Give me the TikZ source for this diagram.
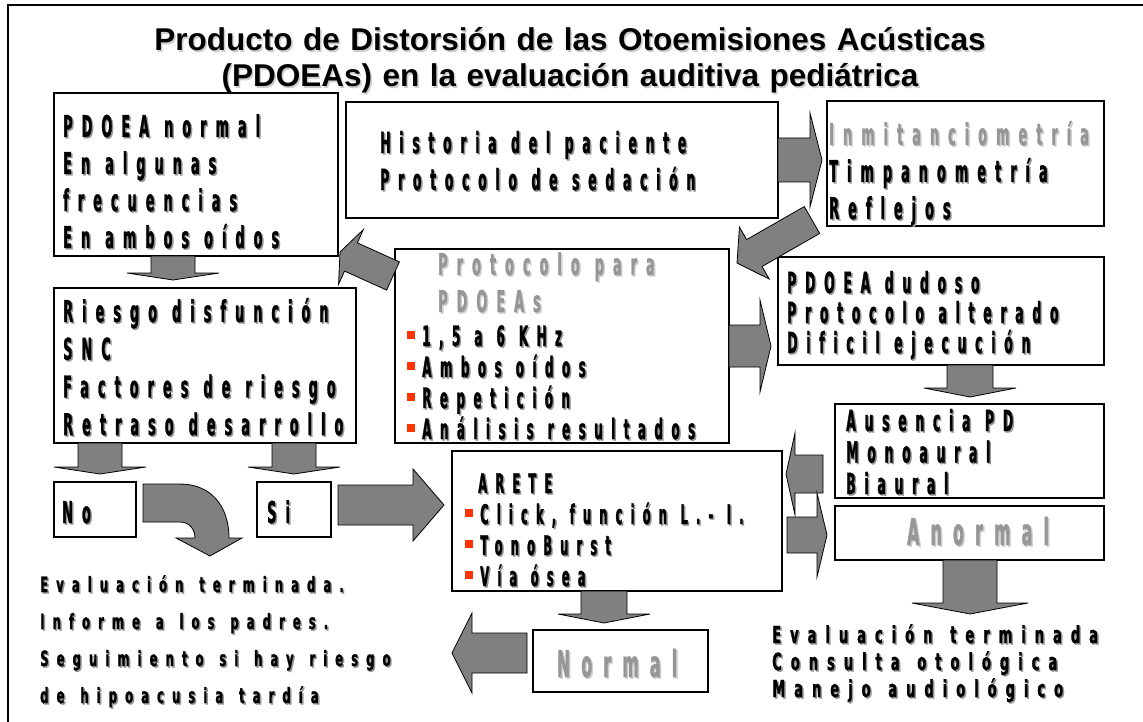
\documentclass[tikz,border=0pt]{standalone}
\usepackage{fontspec}
\setmainfont{Liberation Sans}
\newfontfamily\boxfont[FakeStretch=0.43,FakeBold=1,LetterSpace=30,Ligatures=NoCommon]{DejaVu Sans Bold}
\newfontfamily\evalfont[FakeStretch=0.56,FakeBold=1,LetterSpace=38,Ligatures=NoCommon]{DejaVu Sans Bold}

\definecolor{arrowgray}{RGB}{128,128,128}
\definecolor{softgray}{RGB}{150,150,150}
\definecolor{shadowgray}{RGB}{150,150,150}
\definecolor{lightshadow}{RGB}{205,205,205}
\definecolor{bulletred}{RGB}{255,51,0}

% word gap for the spaced fonts
\newlength\wgap
\newcommand\w{\hspace{\wgap}}
% fonts with size and line skip
\newcommand\bfs[2]{\boxfont\fontsize{#1}{#2}\selectfont\setlength\wgap{0.5em}}
\newcommand\efs[2]{\evalfont\fontsize{#1}{#2}\selectfont\setlength\wgap{0.75em}}
% text with a small grey drop shadow
\newcommand\shd[2][shadowgray]{\leavevmode\rlap{\kern1.5pt\raisebox{-1.5pt}{\textcolor{#1}{#2}}}#2}
\newcommand\bul{\textcolor{bulletred}{\rule[7pt]{8pt}{8pt}}\hspace{7pt}}

% block arrow: tail, tip, shaft half width, head half width, head length
\newcommand\blockarrow[5]{%
  \path (#1); \pgfgetlastxy{\bax}{\bay}
  \path (#2); \pgfgetlastxy{\bbx}{\bby}
  \pgfmathsetmacro\baang{atan2(\bby-\bay,\bbx-\bax)}
  \pgfmathsetmacro\balen{veclen(\bbx-\bax,\bby-\bay)}
  \draw[barrow, shift={(\bax,\bay)}, rotate=\baang]
    (0pt,-#3pt) -- ({\balen pt-#5pt},-#3pt) -- ({\balen pt-#5pt},-#4pt) -- (\balen pt,0pt)
    -- ({\balen pt-#5pt},#4pt) -- ({\balen pt-#5pt},#3pt) -- (0pt,#3pt) -- cycle;
}

\begin{document}
\begin{tikzpicture}[x=1pt,y=-1pt,
  box/.style={draw, line width=1.2pt, inner sep=0pt},
  txt/.style={anchor=base west, align=left, inner sep=0pt, text width=420pt},
  barrow/.style={draw=black, line width=0.8pt, fill=arrowgray}]

  \useasboundingbox (0,0) rectangle (1143,722);
  \draw[line width=2pt] (8,722) -- (8,5) -- (1143,5);

  % title
  \node[anchor=base, align=center, text width=1100pt, inner sep=0pt,
        font=\bfseries\fontsize{31.5}{36}\selectfont] (title) at (570,51)
    {\shd[lightshadow]{Producto de Distorsión de las Otoemisiones Acústicas}\\
     \shd[lightshadow]{(PDOEAs) en la evaluación auditiva pediátrica}};

  % boxes
  \node[box, minimum width=284pt, minimum height=163pt] (pdn)   at (196,174.5) {};
  \node[box, minimum width=432pt, minimum height=116pt] (hist)  at (562,160) {};
  \node[box, minimum width=277pt, minimum height=125pt] (inm)   at (965.5,163.5) {};
  \node[box, minimum width=326pt, minimum height=108pt] (dud)   at (941,311) {};
  \node[box, minimum width=334pt, minimum height=194pt] (prot)  at (562,346) {};
  \node[box, minimum width=302pt, minimum height=155pt] (ries)  at (205,365.5) {};
  \node[box, minimum width=82pt,  minimum height=55pt]  (no)    at (95,509.5) {};
  \node[box, minimum width=74pt,  minimum height=55pt]  (si)    at (294,509.5) {};
  \node[box, minimum width=330pt, minimum height=140pt] (arete) at (617,521) {};
  \node[box, minimum width=269pt, minimum height=94pt]  (aus)   at (969.5,451) {};
  \node[box, minimum width=269pt, minimum height=54pt]  (anor)  at (969.5,533) {};
  \node[box, minimum width=175pt, minimum height=62pt]  (norm)  at (620.5,661) {};

  % box texts
  \node[txt, font=\bfs{30}{37}] (pdntxt) at (63,137)
    {\shd{PDOEA\w normal}\\\shd{En\w algunas}\\\shd{frecuencias}\\\shd{En\w ambos\w oídos}};
  \node[txt, font=\bfs{29}{37}] (histtxt) at (380,153)
    {\shd{Historia\w del\w paciente}\\\shd{Protocolo\w de\w sedación}};
  \node[txt, font=\bfs{30}{37}] (inmtxt) at (829,145)
    {{\color{softgray}\shd[lightshadow]{Inmitanciometría}}\\\shd{Timpanometría}\\\shd{Reflejos}};
  \node[txt, font=\bfs{29}{30}] (dudtxt) at (787,293)
    {\shd{PDOEA\w dudoso}\\\shd{Protocolo\w alterado}\\\shd{Dificil\w ejecución}};
  \node[txt, text=softgray, font=\bfs{30}{37}] (prothead) at (438,275)
    {\shd[lightshadow]{Protocolo\w para}\\\shd[lightshadow]{PDOEAs}};
  \node[txt, font=\bfs{28}{31}] (prottxt) at (407,346)
    {\bul\shd{1,5\w a\w 6\w KHz}\\\bul\shd{Ambos\w oídos}\\\bul\shd{Repetición}\\\bul\shd{Análisis\w resultados}};
  \node[txt, font=\bfs{30}{37.7}] (riestxt) at (63,322)
    {\shd{Riesgo\w disfunción}\\\shd{SNC}\\\shd{Factores\w de\w riesgo}\\\shd{Retraso\w desarrollo}};
  \node[txt, font=\bfs{30}{37}] (notxt) at (62,523) {\shd{No}};
  \node[txt, font=\bfs{30}{37}] (sitxt) at (267,523) {\shd{Si}};
  \node[txt, font=\bfs{27}{31}] (aretetxt) at (465,493)
    {\hspace*{13pt}\shd{ARETE}\\\bul\shd{Click,\w función\w L.-\w I.}\\\bul\shd{TonoBurst}\\\bul\shd{Vía\w ósea}};
  \node[txt, font=\bfs{29}{31.5}] (austxt) at (846,431)
    {\shd{Ausencia\w PD}\\\shd{Monoaural}\\\shd{Biaural}};
  \node[anchor=base, inner sep=0pt, text=softgray, font=\bfs{37}{40}] (anortxt) at (978,545)
    {\shd[lightshadow]{Anormal}};
  \node[anchor=base, inner sep=0pt, text=softgray, font=\bfs{37}{40}] (normtxt) at (617,677)
    {\shd[lightshadow]{Normal}};

  % end texts
  \node[txt, font=\efs{21}{37}] (evalno) at (40,592)
    {\shd{Evaluación\w terminada.}\\\shd{Informe\w a\w los\w padres.}\\\shd{Seguimiento\w si\w hay\w riesgo}\\\shd{de\w hipoacusia\w tardía}};
  \node[txt, font=\efs{23.5}{27}] (evalanor) at (772,643)
    {\shd{Evaluación\w terminada}\\\shd{Consulta\w otológica}\\\shd{Manejo\w audiológico}};

  % arrow end points
  \coordinate (histout) at (778,160);   \coordinate (inmin)   at (822,160);
  \coordinate (inmout)  at (812,220);   \coordinate (protin)  at (737,263);
  \coordinate (pdnout)  at (173,256);   \coordinate (riesin)  at (173,280);
  \coordinate (protout) at (393,276);   \coordinate (pdnin)   at (340,252);
  \coordinate (riesno)  at (100,443);   \coordinate (noin)    at (100,474);
  \coordinate (riessi)  at (294,443);   \coordinate (siin)    at (294,474);
  \coordinate (siout)   at (338,505);   \coordinate (aretein) at (444,505);
  \coordinate (protdud) at (729,346);   \coordinate (dudin)   at (771,346);
  \coordinate (dudout)  at (970,365);   \coordinate (ausin)   at (970,397);
  \coordinate (ausout)  at (823,474);   \coordinate (aretel)  at (786,474);
  \coordinate (aretout) at (787,535);   \coordinate (anorin)  at (827,535);
  \coordinate (anorout) at (970,560);   \coordinate (evalin)  at (970,614);
  \coordinate (aretdn)  at (604,591);   \coordinate (normin)  at (604,623);
  \coordinate (normout) at (527,653);   \coordinate (evalnoin) at (452,653);

  % block arrows
  \blockarrow{histout}{inmin}{22}{47}{12}
  \blockarrow{inmout}{protin}{15.5}{30}{20}
  \blockarrow{pdnout}{riesin}{22}{46}{7}
  \blockarrow{protout}{pdnin}{15.5}{30}{12}
  \blockarrow{riesno}{noin}{22}{46}{7}
  \blockarrow{riessi}{siin}{22}{46}{7}
  \blockarrow{siout}{aretein}{20}{36}{31}
  \blockarrow{protdud}{dudin}{21}{46}{11}
  \blockarrow{dudout}{ausin}{23}{46}{9}
  \blockarrow{ausout}{aretel}{19}{41}{9}
  \blockarrow{aretout}{anorin}{18}{42}{10}
  \blockarrow{anorout}{evalin}{27}{58}{11}
  \blockarrow{aretdn}{normin}{23}{46}{9}
  \blockarrow{normout}{evalnoin}{20}{40}{20}

  % curved arrow from No
  \draw[barrow] (143,484) -- (180,484) .. controls (210,484) and (229,505) .. (229,538)
    -- (242,538) -- (210,556) -- (176,538) -- (195,538)
    .. controls (195,530) and (190,522) .. (180,522) -- (143,522) -- cycle;

\end{tikzpicture}
\end{document}
